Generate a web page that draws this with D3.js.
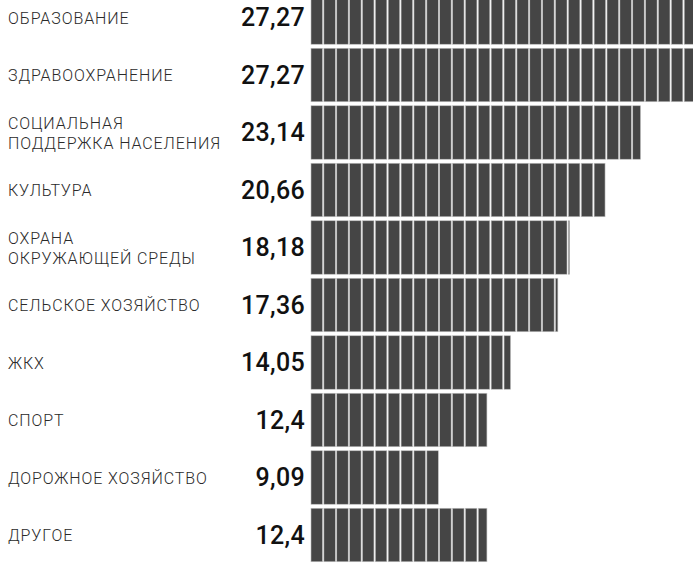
<!DOCTYPE html>
<meta charset="utf-8">
<script src="https://d3js.org/d3.v7.min.js"></script>
<style>
  body { margin: 0; background: #fff; }
  svg { display: block; }
</style>
<div id="my_dataviz"></div>
<script>
  // categories (line breaks kept as in the picture) and shares, %
  var labels = [
    ["ОБРАЗОВАНИЕ"],
    ["ЗДРАВООХРАНЕНИЕ"],
    ["СОЦИАЛЬНАЯ", "ПОДДЕРЖКА НАСЕЛЕНИЯ"],
    ["КУЛЬТУРА"],
    ["ОХРАНА", "ОКРУЖАЮЩЕЙ СРЕДЫ"],
    ["СЕЛЬСКОЕ ХОЗЯЙСТВО"],
    ["ЖКХ"],
    ["СПОРТ"],
    ["ДОРОЖНОЕ ХОЗЯЙСТВО"],
    ["ДРУГОЕ"]
  ];
  var values = [27.27, 27.27, 23.14, 20.66, 18.18, 17.36, 14.05, 12.4, 9.09, 12.4];
  var valueLabels = ["27,27", "27,27", "23,14", "20,66", "18,18", "17,36", "14,05", "12,4", "9,09", "12,4"];

  var width = 693, height = 567;
  var cellW = 12.87;

  var data = values.map(function(v, i) { return {i: i, value: v, label: labels[i], text: valueLabels[i]}; });

  var svg = d3.select("#my_dataviz")
    .append("svg")
      .attr("width", width)
      .attr("height", height);

  // rows: the chart is cropped, first bar partly above the top edge
  var y = d3.scaleBand()
    .domain(d3.range(values.length))
    .range([-11.25, -11.25 + 57.5 * values.length])
    .paddingInner(0.07)
    .paddingOuter(0.035);

  var x = d3.scaleLinear()
    .domain([0, 30])
    .range([311, 311 + 30 * 14.3]);

  var rows = svg.selectAll("g.row")
    .data(data)
    .enter()
    .append("g")
      .attr("class", "row")
      .attr("transform", function(d) { return "translate(0," + y(d.i) + ")"; });

  // bars made of vertical cells
  rows.each(function(d) {
    var g = d3.select(this);
    var x0 = x(0), x1 = Math.min(x(d.value), width + 2);
    var n = Math.ceil((x1 - x0) / cellW);
    g.selectAll("rect")
      .data(d3.range(n))
      .enter()
      .append("rect")
        .attr("x", function(k) { return x0 + k * cellW; })
        .attr("y", 0)
        .attr("width", function(k) { return Math.max(0, Math.min(cellW, x1 - (x0 + k * cellW)) - 1.4); })
        .attr("height", y.bandwidth())
        .attr("fill", "#454545")
        .attr("stroke", "#bdbdbd")
        .attr("stroke-width", 0.6);
  });

  // value labels
  rows.append("text")
    .attr("x", 305)
    .attr("y", y.bandwidth() / 2)
    .attr("dy", "0.36em")
    .attr("text-anchor", "end")
    .style("font-family", "Roboto, sans-serif")
    .style("font-weight", 500)
    .style("font-size", "25px")
    .style("letter-spacing", "0.3px")
    .attr("fill", "#111")
    .text(function(d) { return d.text; });

  // category labels
  rows.append("text")
    .attr("x", 8)
    .style("font-family", "Roboto, sans-serif")
    .style("font-weight", 300)
    .style("font-size", "16px")
    .style("letter-spacing", "0.9px")
    .attr("fill", "#2a2a2a")
    .each(function(d) {
      var t = d3.select(this);
      var n = d.label.length;
      d.label.forEach(function(line, j) {
        t.append("tspan")
          .attr("x", 8)
          .attr("y", y.bandwidth() / 2 + (j - (n - 1) / 2) * 20)
          .attr("dy", "0.38em")
          .text(line);
      });
    });
</script>
